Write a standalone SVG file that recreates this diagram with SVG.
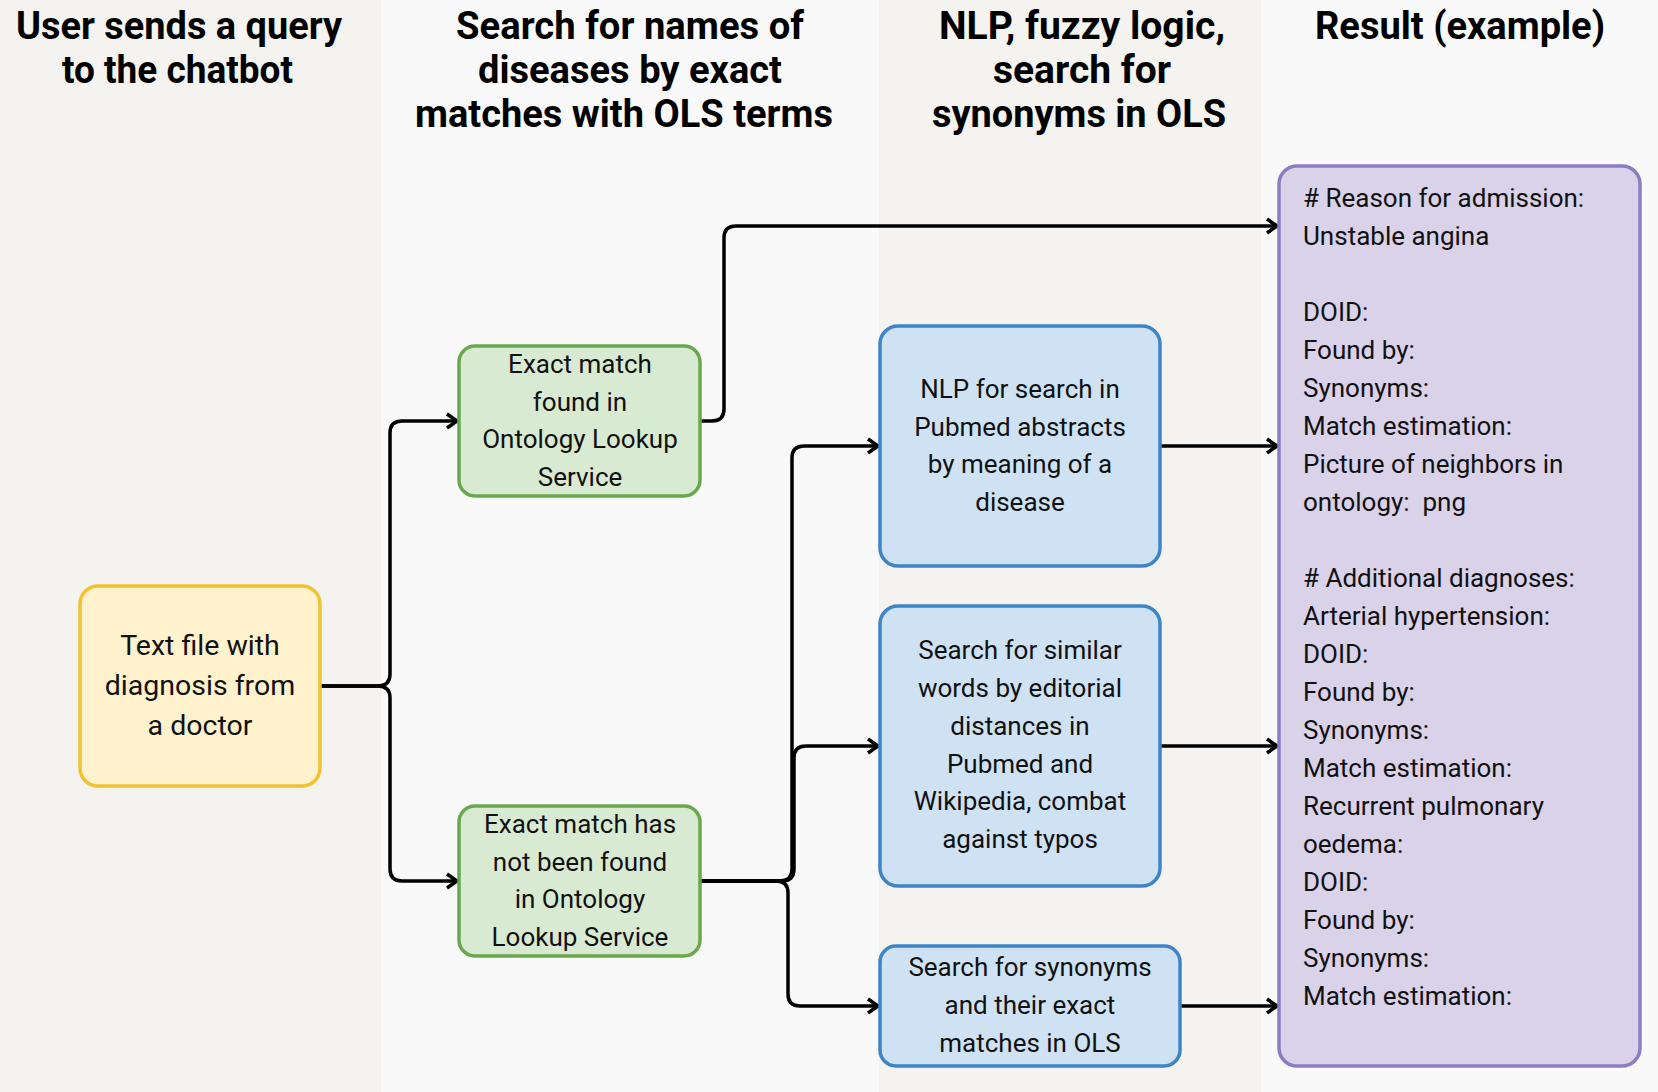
<svg xmlns="http://www.w3.org/2000/svg" width="1658" height="1092" viewBox="0 0 1658 1092">
<style>
.hd{font-family:Roboto,"Liberation Sans",sans-serif;font-weight:700;font-size:38px;fill:#000;text-anchor:start}
.nt{font-family:Roboto,"Liberation Sans",sans-serif;font-size:26px;fill:#111;text-anchor:middle}
.nt2{font-family:Roboto,"Liberation Sans",sans-serif;font-size:28.5px;fill:#111;text-anchor:middle}
.rt{font-family:Roboto,"Liberation Sans",sans-serif;font-size:26px;fill:#111}
.edge{fill:none;stroke:#000;stroke-width:3.5;stroke-linejoin:round}
.yel{fill:#fff2cc;stroke:#f1c232;stroke-width:3.5}
.grn{fill:#d9ead3;stroke:#6aa84f;stroke-width:3.5}
.blu{fill:#cfe2f3;stroke:#3d85c6;stroke-width:3.5}
.pur{fill:#d9d2e9;stroke:#8e7cc3;stroke-width:3.5}
</style>
<defs>
<marker id="arr" markerUnits="userSpaceOnUse" markerWidth="16" markerHeight="18" refX="13" refY="8" orient="auto" overflow="visible">
<path d="M3,1 L13,8 L3,15" fill="none" stroke="#000" stroke-width="3.5" stroke-linejoin="miter"/>
</marker>
</defs>
<g id="lanes">
<rect x="0" y="0" width="381" height="1092" fill="#f4f3ef"/>
<rect x="381" y="0" width="498" height="1092" fill="#f9f9f9"/>
<rect x="879" y="0" width="382" height="1092" fill="#f4f3ef"/>
<rect x="1261" y="0" width="397" height="1092" fill="#f9f9f9"/>
</g>
<g id="headers">
<text class="hd" x="16" y="39" textLength="326" lengthAdjust="spacingAndGlyphs">User sends a query</text>
<text class="hd" x="62" y="83" textLength="231" lengthAdjust="spacingAndGlyphs">to the chatbot</text>
<text class="hd" x="456" y="39" textLength="348" lengthAdjust="spacingAndGlyphs">Search for names of</text>
<text class="hd" x="478" y="83" textLength="304" lengthAdjust="spacingAndGlyphs">diseases by exact</text>
<text class="hd" x="415" y="127" textLength="418" lengthAdjust="spacingAndGlyphs">matches with OLS terms</text>
<text class="hd" x="939" y="39" textLength="286" lengthAdjust="spacingAndGlyphs">NLP, fuzzy logic,</text>
<text class="hd" x="993" y="83" textLength="178" lengthAdjust="spacingAndGlyphs">search for</text>
<text class="hd" x="932" y="127" textLength="294" lengthAdjust="spacingAndGlyphs">synonyms in OLS</text>
<text class="hd" x="1315" y="39" textLength="290" lengthAdjust="spacingAndGlyphs">Result (example)</text>
</g>
<g id="connectors">
<path class="edge" d="M320,686 H378 Q390,686 390,674 V433 Q390,421 402,421 H457" marker-end="url(#arr)"/>
<path class="edge" d="M320,686 H378 Q390,686 390,698 V869 Q390,881 402,881 H457" marker-end="url(#arr)"/>
<path class="edge" d="M700,421 H712 Q724,421 724,409 V238 Q724,226 736,226 H1277" marker-end="url(#arr)"/>
<path class="edge" d="M700,881 H780 Q792,881 792,869 V458 Q792,446 804,446 H878" marker-end="url(#arr)"/>
<path class="edge" d="M700,881 H782 Q794,881 794,869 V758 Q794,746 806,746 H878" marker-end="url(#arr)"/>
<path class="edge" d="M700,881 H776 Q788,881 788,893 V994 Q788,1006 800,1006 H878" marker-end="url(#arr)"/>
<path class="edge" d="M1160,446 H1277" marker-end="url(#arr)"/>
<path class="edge" d="M1160,746 H1277" marker-end="url(#arr)"/>
<path class="edge" d="M1180,1006 H1277" marker-end="url(#arr)"/>
</g>
<g id="node-textfile">
<rect class="yel" x="80" y="586" width="240" height="200" rx="18"/>
<text class="nt2" x="200" y="655">Text file with</text>
<text class="nt2" x="200" y="695">diagnosis from</text>
<text class="nt2" x="200" y="735">a doctor</text>
</g>
<g id="node-found">
<rect class="grn" x="459" y="346" width="241" height="150" rx="16"/>
<text class="nt" x="580" y="373">Exact match</text>
<text class="nt" x="580" y="411">found in</text>
<text class="nt" x="580" y="448">Ontology Lookup</text>
<text class="nt" x="580" y="486">Service</text>
</g>
<g id="node-notfound">
<rect class="grn" x="459" y="806" width="241" height="150" rx="16"/>
<text class="nt" x="580" y="833">Exact match has</text>
<text class="nt" x="580" y="871">not been found</text>
<text class="nt" x="580" y="908">in Ontology</text>
<text class="nt" x="580" y="946">Lookup Service</text>
</g>
<g id="node-nlp">
<rect class="blu" x="880" y="326" width="280" height="240" rx="18"/>
<text class="nt" x="1020" y="398">NLP for search in</text>
<text class="nt" x="1020" y="436">Pubmed abstracts</text>
<text class="nt" x="1020" y="473">by meaning of a</text>
<text class="nt" x="1020" y="511">disease</text>
</g>
<g id="node-similar">
<rect class="blu" x="880" y="606" width="280" height="280" rx="18"/>
<text class="nt" x="1020" y="659">Search for similar</text>
<text class="nt" x="1020" y="697">words by editorial</text>
<text class="nt" x="1020" y="735">distances in</text>
<text class="nt" x="1020" y="773">Pubmed and</text>
<text class="nt" x="1020" y="810">Wikipedia, combat</text>
<text class="nt" x="1020" y="848">against typos</text>
</g>
<g id="node-synonyms">
<rect class="blu" x="880" y="946" width="300" height="120" rx="16"/>
<text class="nt" x="1030" y="976">Search for synonyms</text>
<text class="nt" x="1030" y="1014">and their exact</text>
<text class="nt" x="1030" y="1052">matches in OLS</text>
</g>
<g id="node-result">
<rect class="pur" x="1279" y="166" width="361" height="900" rx="18"/>
<text class="rt" x="1303" y="207">
<tspan x="1303" y="207"># Reason for admission:</tspan>
<tspan x="1303" y="245">Unstable angina</tspan>
<tspan x="1303" y="321">DOID:</tspan>
<tspan x="1303" y="359">Found by:</tspan>
<tspan x="1303" y="397">Synonyms:</tspan>
<tspan x="1303" y="435">Match estimation:</tspan>
<tspan x="1303" y="473">Picture of neighbors in</tspan>
<tspan x="1303" y="511" xml:space="preserve">ontology:  png</tspan>
<tspan x="1303" y="587"># Additional diagnoses:</tspan>
<tspan x="1303" y="625">Arterial hypertension:</tspan>
<tspan x="1303" y="663">DOID:</tspan>
<tspan x="1303" y="701">Found by:</tspan>
<tspan x="1303" y="739">Synonyms:</tspan>
<tspan x="1303" y="777">Match estimation:</tspan>
<tspan x="1303" y="815">Recurrent pulmonary</tspan>
<tspan x="1303" y="853">oedema:</tspan>
<tspan x="1303" y="891">DOID:</tspan>
<tspan x="1303" y="929">Found by:</tspan>
<tspan x="1303" y="967">Synonyms:</tspan>
<tspan x="1303" y="1005">Match estimation:</tspan>
</text>
</g>
</svg>
